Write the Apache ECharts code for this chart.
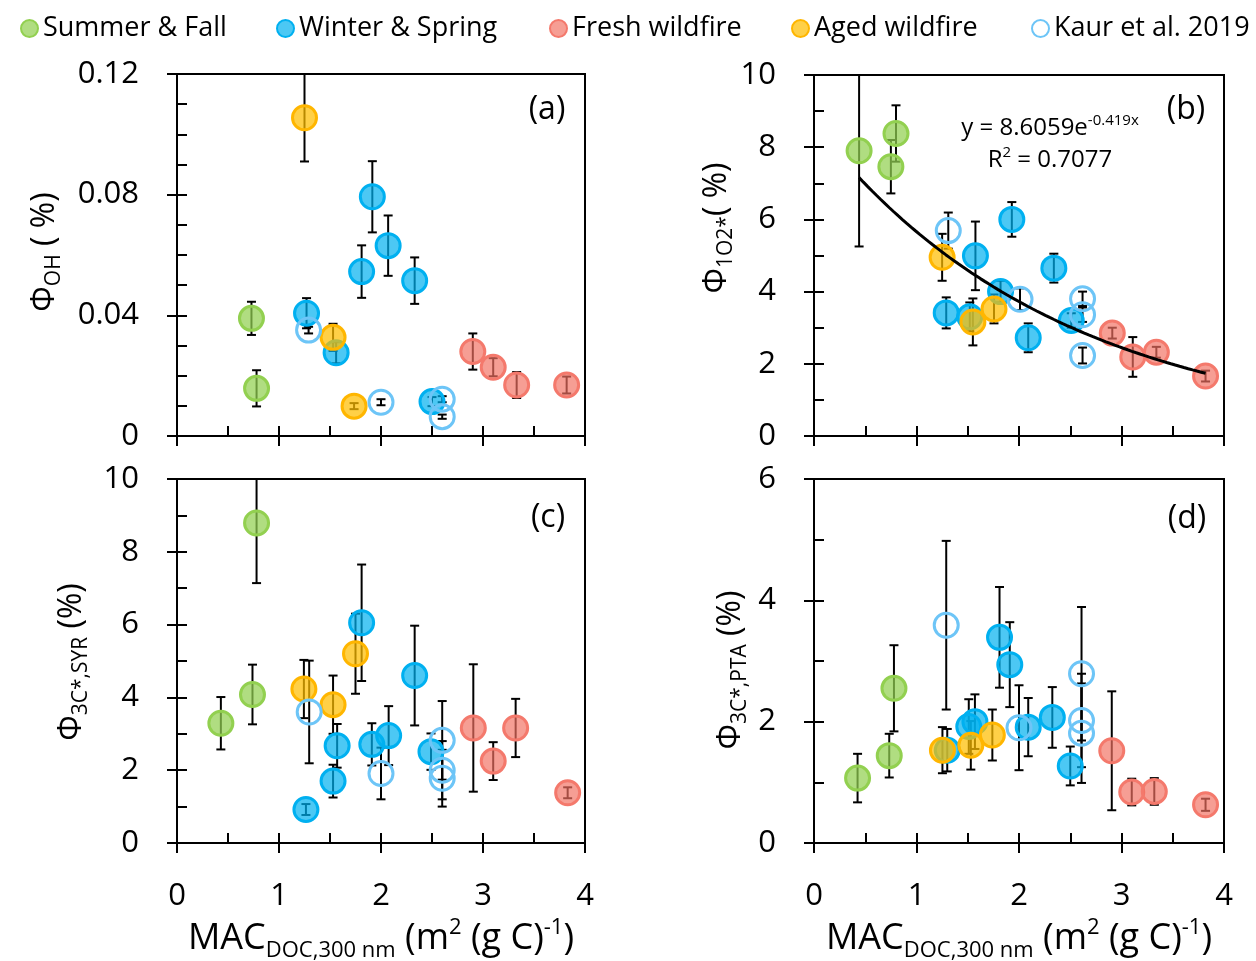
<!DOCTYPE html>
<html><head><meta charset="utf-8">
<script src="https://cdn.jsdelivr.net/npm/echarts@6/dist/echarts.min.js"></script>
<style>html,body{margin:0;padding:0;background:#fff}#c{width:1256px;height:961px}</style>
</head><body><div id="c"></div>
<script>
// ---------- data: [MAC, value, error] ----------
const a_summer = [[0.73,0.0390,0.0055],[0.78,0.0158,0.006]];
const a_winter = [[1.27,0.0407,0.005],[1.56,0.0276,0.0035],[1.81,0.0545,0.0087],[1.915,0.0793,0.0118],[2.07,0.0631,0.010],[2.33,0.0515,0.0077],[2.50,0.0114,0.0015]];
const a_fresh  = [[2.90,0.0280,0.006],[3.10,0.0228,0.003],[3.33,0.0169,0.0043],[3.82,0.0169,0.0028]];
const a_aged   = [[1.25,0.1055,0.0145],[1.53,0.0327,0.0045],[1.736,0.0099,0.001]];
const a_kaur   = [[1.29,0.0351,0.0011],[2.00,0.0112,0.001],[2.60,0.0122,0.001],[2.60,0.0064,0.0007]];

const b_summer = [[0.44,7.90,2.65],[0.80,8.38,0.78],[0.75,7.46,0.74]];
const b_winter = [[1.29,3.41,0.43],[1.52,3.30,0.4],[1.575,4.99,0.95],[1.82,4.0,0.3],[1.93,6.0,0.48],[2.09,2.72,0.4],[2.34,4.65,0.4],[2.51,3.2,0.2]];
const b_fresh  = [[2.91,2.85,0.15],[3.11,2.19,0.55],[3.34,2.32,0.15],[3.82,1.66,0.15]];
const b_aged   = [[1.25,4.95,0.65],[1.55,3.16,0.65],[1.756,3.52,0.4]];
const b_kaur   = [[1.31,5.69,0.5],[2.01,3.79,0.3],[2.62,3.80,0.2],[2.62,3.36,0.2],[2.62,2.23,0.22]];

const c_summer = [[0.43,3.29,0.72],[0.74,4.08,0.82],[0.78,8.79,1.65]];
const c_winter = [[1.264,0.92,0.15],[1.53,1.70,0.45],[1.57,2.67,0.6],[1.81,6.05,1.6],[1.91,2.71,0.58],[2.075,2.95,0.81],[2.33,4.6,1.37],[2.49,2.51,0.5]];
const c_fresh  = [[2.905,3.16,1.75],[3.10,2.25,0.52],[3.32,3.16,0.8],[3.83,1.38,0.15]];
const c_aged   = [[1.244,4.23,0.8],[1.53,3.80,0.8],[1.75,5.20,1.1]];
const c_kaur   = [[1.296,3.60,1.41],[2.00,1.91,0.71],[2.60,2.82,1.08],[2.60,2.00,0.8],[2.60,1.78,0.78]];

const d_summer = [[0.425,1.07,0.4],[0.734,1.44,0.36],[0.78,2.55,0.71]];
const d_winter = [[1.30,1.53,0.35],[1.51,1.92,0.45],[1.57,2.0,0.45],[1.81,3.39,0.83],[1.91,2.94,0.7],[2.09,1.91,0.48],[2.325,2.07,0.5],[2.50,1.27,0.32]];
const d_fresh  = [[2.905,1.52,0.98],[3.10,0.84,0.22],[3.32,0.85,0.22],[3.82,0.63,0.1]];
const d_aged   = [[1.253,1.53,0.38],[1.53,1.61,0.4],[1.74,1.78,0.42]];
const d_kaur   = [[1.29,3.59,1.39],[2.00,1.90,0.7],[2.61,2.79,1.1],[2.61,2.02,0.77],[2.61,1.81,0.82]];

// exponential fit shown in panel (b): y = fitA * exp(fitB * x)
const fitA = 8.6059, fitB = -0.419, fitXStart = 0.44, fitXEnd = 3.82;

const groupNames = ['Summer & Fall','Winter & Spring','Fresh wildfire','Aged wildfire','Kaur et al. 2019'];
const yMaxes = [0.12, 10, 10, 6];
const yMajors = [0.04, 2, 2, 2];
const yMinors = [0.01, 1, 1, 1];
const xTickLabels = [0,1,2,3,4];

// ---------- styling ----------
const FONT = "'Open Sans', sans-serif";
const groupStroke = ['#92D050','#00B0F0','#F4796C','#FFB600','#6DC5F7'];
const groupFill = ['rgba(146,208,80,0.72)','rgba(0,176,240,0.7)','rgba(242,112,98,0.68)','rgba(255,190,0,0.72)','rgba(255,255,255,0)'];
const panelData = [
  [a_summer,a_winter,a_fresh,a_aged,a_kaur],
  [b_summer,b_winter,b_fresh,b_aged,b_kaur],
  [c_summer,c_winter,c_fresh,c_aged,c_kaur],
  [d_summer,d_winter,d_fresh,d_aged,d_kaur]
];
const gridBoxes = [
  {left:177,top:74,width:408,height:362},
  {left:814,top:75,width:410,height:361},
  {left:177,top:479,width:408,height:364},
  {left:814,top:479,width:410,height:364}
];

const lineSt = {color:'#000', width:2};
const grid = gridBoxes.map(b => Object.assign({}, b, {show:true, borderColor:'#000', borderWidth:2, backgroundColor:'transparent', containLabel:false, outerBoundsMode:'none'}));
const xAxis = [], yAxis = [];
gridBoxes.forEach((b, i) => {
  xAxis.push({type:'value', gridIndex:i, position:'bottom', min:xTickLabels[0], max:xTickLabels[xTickLabels.length-1], interval:1,
    axisLine:{show:true, onZero:false, lineStyle:lineSt}, axisTick:{show:true, inside:false, length:10, lineStyle:lineSt},
    axisLabel:{show:i>=2, margin:38, fontSize:31, color:'#000', fontFamily:FONT, showMinLabel:true, showMaxLabel:true},
    splitLine:{show:false}});
  xAxis.push({type:'value', gridIndex:i, position:'bottom', min:xTickLabels[0], max:xTickLabels[xTickLabels.length-1], interval:0.5,
    axisLine:{show:false, onZero:false}, axisTick:{show:true, inside:true, length:10, lineStyle:lineSt},
    axisLabel:{show:false}, splitLine:{show:false}});
  yAxis.push({type:'value', gridIndex:i, position:'left', min:0, max:yMaxes[i], interval:yMajors[i],
    axisLine:{show:true, onZero:false, lineStyle:lineSt}, axisTick:{show:true, inside:false, length:10, lineStyle:lineSt},
    axisLabel:{show:true, margin:38, fontSize:31, color:'#000', fontFamily:FONT, showMinLabel:true, showMaxLabel:true,
      formatter: v => (i === 0 ? (v === 0 ? '0' : v.toFixed(2)) : String(Math.round(v)))},
    splitLine:{show:false}});
  yAxis.push({type:'value', gridIndex:i, position:'left', min:0, max:yMaxes[i], interval:yMinors[i],
    axisLine:{show:false, onZero:false}, axisTick:{show:true, inside:true, length:10, lineStyle:lineSt},
    axisLabel:{show:false}, splitLine:{show:false}});
});

function errRender(params, api) {
  const x = api.value(0), y = api.value(1), e = api.value(2);
  const t = api.coord([x, y + e]), bt = api.coord([x, y - e]);
  const hw = 4.5, st = {stroke:'#000', lineWidth:2};
  return {type:'group', children:[
    {type:'line', shape:{x1:t[0], y1:t[1], x2:bt[0], y2:bt[1]}, style:st},
    {type:'line', shape:{x1:t[0]-hw, y1:t[1], x2:t[0]+hw, y2:t[1]}, style:st},
    {type:'line', shape:{x1:bt[0]-hw, y1:bt[1], x2:bt[0]+hw, y2:bt[1]}, style:st}
  ]};
}

const series = [];
panelData.forEach((groups, i) => {
  groups.forEach((arr, g) => {
    series.push({type:'custom', name:'err'+i+'_'+g, xAxisIndex:2*i, yAxisIndex:2*i, data:arr,
      dimensions:['x','y','e'], encode:{x:0, y:1}, renderItem:errRender, clip:true, z:2, silent:true});
  });
  groups.forEach((arr, g) => {
    series.push({type:'scatter', name:groupNames[g], xAxisIndex:2*i, yAxisIndex:2*i,
      data:arr.map(d => [d[0], d[1]]), symbol:'circle', symbolSize:24,
      itemStyle:{color:groupFill[g], borderColor:groupStroke[g], borderWidth:3, opacity:1},
      z:3, emphasis:{disabled:true}, silent:true});
  });
});
const fitPts = [];
for (let k = 0; k <= 80; k++) {
  const x = fitXStart + (fitXEnd - fitXStart) * k / 80;
  fitPts.push([x, fitA * Math.exp(fitB * x)]);
}
series.push({type:'line', name:'fit', xAxisIndex:2, yAxisIndex:2, data:fitPts, showSymbol:false, symbol:'none',
  lineStyle:{color:'#000', width:3}, z:4, silent:true, smooth:false});

const legendLefts = [20, 276, 549, 791, 1031];
const legend = groupNames.map((n, g) => ({data:[n], left:legendLefts[g], top:15, icon:'circle', itemWidth:17, itemHeight:17,
  itemGap:0, padding:0, itemStyle:{borderWidth:2}, textStyle:{fontSize:27, color:'#000', fontFamily:FONT}, selectedMode:false}));

const richBase = (m, s) => ({
  m:{fontSize:m, lineHeight:Math.round(m*1.25), fontFamily:FONT, color:'#000'},
  s:{fontSize:s, lineHeight:s, verticalAlign:'bottom', fontFamily:FONT, color:'#000'},
  p:{fontSize:s, lineHeight:s, verticalAlign:'top', fontFamily:FONT, color:'#000'}
});
function txt(x, y, text, m, s, rot) {
  return {type:'text', x:x, y:y, rotation:rot || 0, silent:true,
    style:{text:text, rich:richBase(m, s), fill:'#000', align:'center', verticalAlign:'middle', fontFamily:FONT, fontSize:m}};
}
const graphic = {elements:[
  txt(45, 252, '{m|Φ}{s|OH}{m| ( %)}', 32, 21, Math.PI/2),
  txt(717, 228, '{m|Φ}{s|1O2*}{m|( %)}', 32, 21, Math.PI/2),
  txt(72, 662, '{m|Φ}{s|3C*,SYR}{m| (%)}', 32, 21, Math.PI/2),
  txt(731, 670, '{m|Φ}{s|3C*,PTA}{m| (%)}', 32, 21, Math.PI/2),
  txt(381, 939, '{m|MAC}{s|DOC,300 nm}{m| (m}{p|2}{m| (g C)}{p|-1}{m|)}', 36, 22),
  txt(1019, 939, '{m|MAC}{s|DOC,300 nm}{m| (m}{p|2}{m| (g C)}{p|-1}{m|)}', 36, 22),
  txt(547, 110, '{m|(a)}', 32, 20),
  txt(1186, 110, '{m|(b)}', 32, 20),
  txt(548, 518, '{m|(c)}', 32, 20),
  txt(1187, 519, '{m|(d)}', 32, 20),
  txt(1050, 128, '{m|y = 8.6059e}{p|-0.419x}', 24, 15),
  txt(1050, 160, '{m|R}{p|2}{m| = 0.7077}', 24, 15)
]};

const chart = echarts.init(document.getElementById('c'), null, {renderer:'canvas'});
chart.setOption({animation:false, backgroundColor:'#fff', textStyle:{fontFamily:FONT}, grid, xAxis, yAxis, legend, series, graphic});
</script></body></html>
